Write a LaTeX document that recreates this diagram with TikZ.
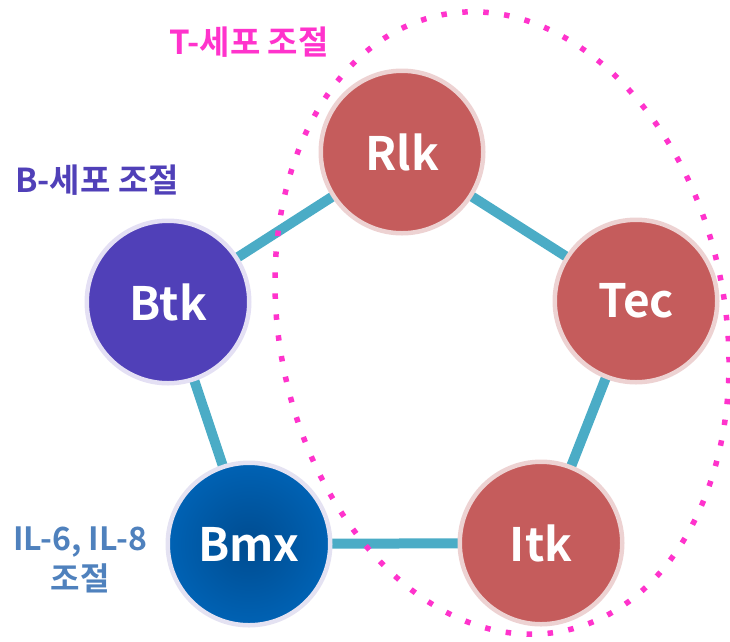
\documentclass[tikz,border=0pt]{standalone}
\usepackage{fontspec}
\setmainfont{Noto Sans CJK KR}[BoldFont={Noto Sans CJK KR Bold}]
\usetikzlibrary{backgrounds}
\definecolor{edgeblue}{HTML}{4BACC6}
\definecolor{redfill}{HTML}{C55C5C}
\definecolor{redring}{HTML}{EDD2D2}
\definecolor{purfill}{HTML}{5040B8}
\definecolor{purring}{HTML}{E4E0F4}
\definecolor{bluering}{HTML}{E4E2F2}
\definecolor{bmxout}{HTML}{0062B4}
\definecolor{bmxin}{HTML}{004C90}
\definecolor{magentalbl}{HTML}{FF33CC}
\definecolor{purlbl}{HTML}{5040B8}
\definecolor{bluelbl}{HTML}{4F81BD}
\begin{document}
\begin{tikzpicture}[x=1pt,y=1pt,
  gene/.style={circle, inner sep=0pt, outer sep=0pt, minimum size=162.5pt, line width=4.5pt,
    text=white, font=\bfseries\fontsize{46}{54}\selectfont},
  redgene/.style={gene, fill=redfill, draw=redring},
  link/.style={line width=10pt, draw=edgeblue},
  lbl/.style={font=\bfseries\fontsize{33}{40}\selectfont, inner sep=0pt, align=center},
  dots/.style={draw=magentalbl, line width=5.5pt, dash pattern=on 5.5pt off 15.5pt}]
\useasboundingbox (0,0) rectangle (730,-641);
\node[redgene] (rlk) at (402,-152) {Rlk};
\node[redgene] (tec) at (636,-301) {Tec};
\node[redgene] (itk) at (541,-543) {Itk};
\node[gene, fill=purfill, draw=purring] (btk) at (168,-302) {Btk};
\node[gene, draw=bluering, shading=radial, inner color=bmxin, outer color=bmxout] (bmx) at (249,-544) {Bmx};
\begin{pgfonlayer}{background}
\draw[link] (btk.center) -- (rlk.center);
\draw[link] (rlk.center) -- (tec.center);
\draw[link] (tec.center) -- (itk.center);
\draw[link] (itk.center) -- (bmx.center);
\draw[link] (bmx.center) -- (btk.center);
\end{pgfonlayer}
\draw[dots, rotate around={11:(502,-323)}] (502,-323) ellipse (223 and 314);
\node[lbl, text=magentalbl] (tlabel) at (249,-42) {T-세포 조절};
\node[lbl, text=purlbl] (blabel) at (97,-180) {B-세포 조절};
\node[lbl, text=bluelbl, font=\bfseries\fontsize{32}{40}\selectfont] (illabel) at (80,-560) {IL-6, IL-8\\조절};
\end{tikzpicture}
\end{document}
